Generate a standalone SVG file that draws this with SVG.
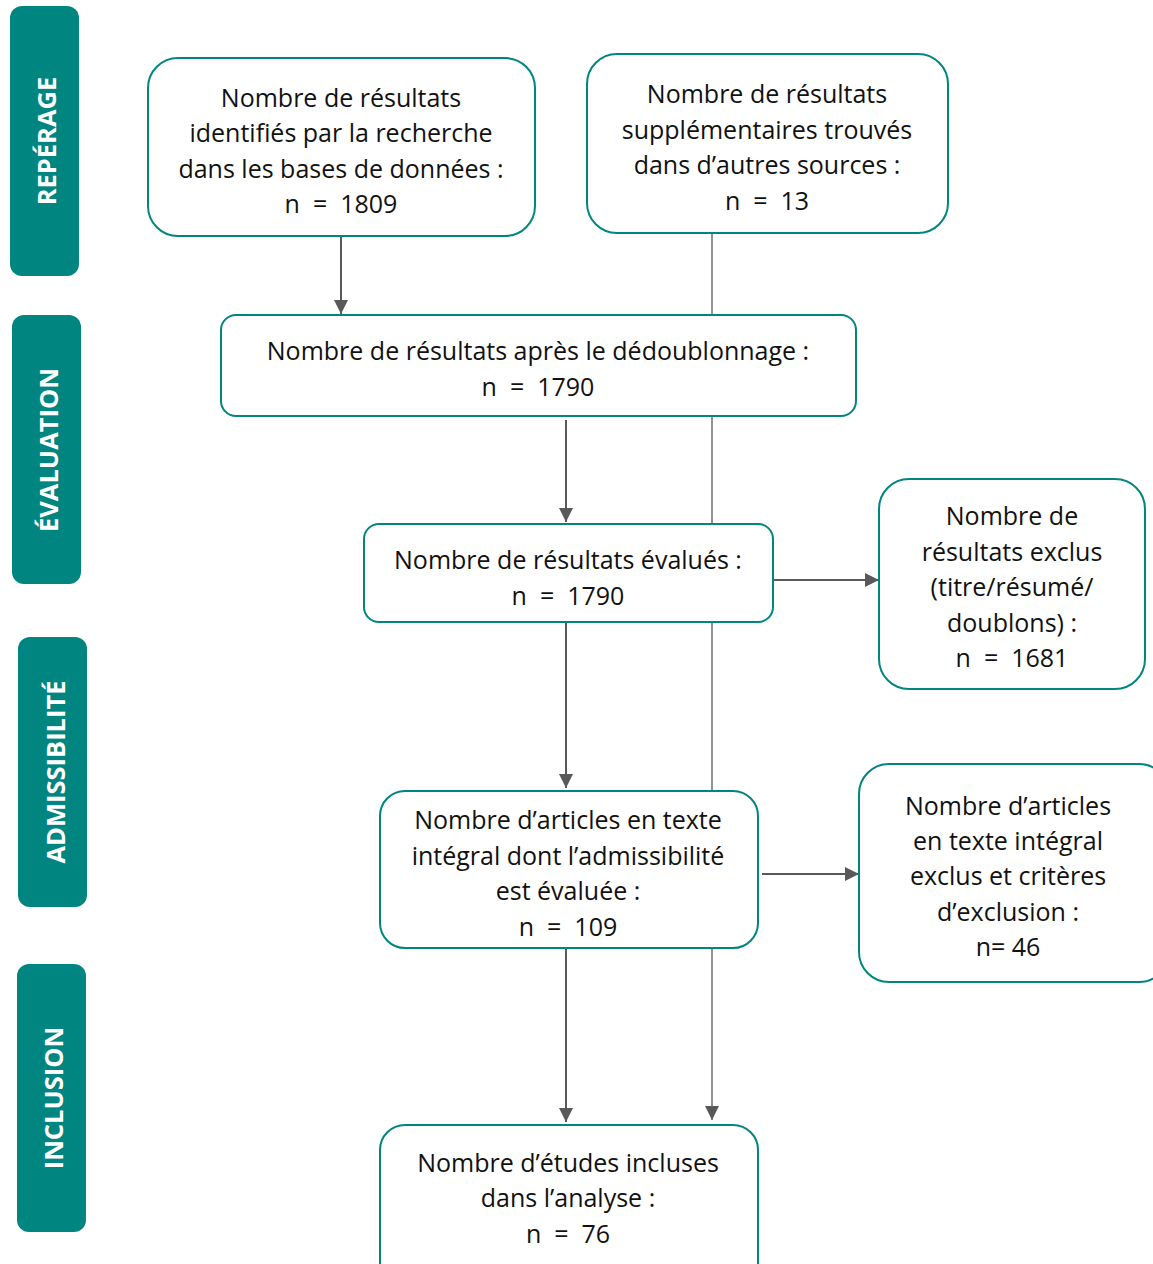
<svg xmlns="http://www.w3.org/2000/svg" width="1153" height="1264" viewBox="0 0 1153 1264">
<defs>
<style>
.side{fill:#008580;}
.sl{fill:#ffffff;font-family:"Open Sans","Noto Sans",sans-serif;font-weight:bold;font-size:25.5px;text-anchor:middle;dominant-baseline:central;}
.box{fill:#ffffff;stroke:#00857f;stroke-width:2;}
.t{fill:#111111;font-family:"Open Sans","Noto Sans",sans-serif;font-size:25px;text-anchor:middle;dominant-baseline:central;}
.c{stroke:#595959;stroke-width:2;fill:none;}
.thin{stroke:#595959;stroke-width:1.3;fill:none;}
</style>
<marker id="ah" viewBox="0 0 14 14" refX="14" refY="7" markerWidth="14" markerHeight="14" markerUnits="userSpaceOnUse" orient="auto">
<path d="M0,0 L14,7 L0,14 Z" fill="#595959"/>
</marker>
</defs>
<g id="sidebars">
<g id="side-reperage"><rect class="side" x="10" y="6" width="69" height="270" rx="12"/><text class="sl" transform="translate(46,141) rotate(-90)">REPÉRAGE</text></g>
<g id="side-evaluation"><rect class="side" x="12" y="315" width="69" height="269" rx="12"/><text class="sl" transform="translate(48,450) rotate(-90)">ÉVALUATION</text></g>
<g id="side-admissibilite"><rect class="side" x="18" y="637" width="69" height="270" rx="12"/><text class="sl" transform="translate(55,772) rotate(-90)">ADMISSIBILITÉ</text></g>
<g id="side-inclusion"><rect class="side" x="17" y="964" width="69" height="268" rx="12"/><text class="sl" transform="translate(53,1098) rotate(-90)">INCLUSION</text></g>
</g>
<g id="connectors">
<line class="thin" x1="712" y1="233" x2="712" y2="1120" marker-end="url(#ah)"/>
<line class="c" x1="341" y1="236" x2="341" y2="314" marker-end="url(#ah)"/>
<line class="c" x1="566" y1="420" x2="566" y2="522" marker-end="url(#ah)"/>
<line class="c" x1="566" y1="622" x2="566" y2="788" marker-end="url(#ah)"/>
<line class="c" x1="566" y1="948" x2="566" y2="1122" marker-end="url(#ah)"/>
<line class="c" x1="773" y1="580" x2="879" y2="580" marker-end="url(#ah)"/>
<line class="c" x1="762" y1="874" x2="859" y2="874" marker-end="url(#ah)"/>
</g>
<g id="n1"><rect class="box" x="148" y="58" width="387" height="178" rx="30"/>
<text class="t" x="341" y="97">Nombre de résultats</text>
<text class="t" x="341" y="132">identifiés par la recherche</text>
<text class="t" x="341" y="168">dans les bases de données :</text>
<text class="t" x="341" y="203" xml:space="preserve">n  =  1809</text></g>
<g id="n2"><rect class="box" x="587" y="54" width="361" height="179" rx="30"/>
<text class="t" x="767" y="93">Nombre de résultats</text>
<text class="t" x="767" y="129">supplémentaires trouvés</text>
<text class="t" x="767" y="164">dans d’autres sources :</text>
<text class="t" x="767" y="200" xml:space="preserve">n  =  13</text></g>
<g id="n3"><rect class="box" x="221" y="315" width="635" height="101" rx="15"/>
<text class="t" x="538" y="350">Nombre de résultats après le dédoublonnage :</text>
<text class="t" x="538" y="386" xml:space="preserve">n  =  1790</text></g>
<g id="n4"><rect class="box" x="364" y="524" width="409" height="98" rx="15"/>
<text class="t" x="568" y="559">Nombre de résultats évalués :</text>
<text class="t" x="568" y="595" xml:space="preserve">n  =  1790</text></g>
<g id="n5"><rect class="box" x="879" y="479" width="266" height="210" rx="30"/>
<text class="t" x="1012" y="515">Nombre de</text>
<text class="t" x="1012" y="551">résultats exclus</text>
<text class="t" x="1012" y="586">(titre/résumé/</text>
<text class="t" x="1012" y="622">doublons) :</text>
<text class="t" x="1012" y="657" xml:space="preserve">n  =  1681</text></g>
<g id="n6"><rect class="box" x="380" y="791" width="378" height="157" rx="25"/>
<text class="t" x="568" y="819">Nombre d’articles en texte</text>
<text class="t" x="568" y="855">intégral dont l’admissibilité</text>
<text class="t" x="568" y="890">est évaluée :</text>
<text class="t" x="568" y="926" xml:space="preserve">n  =  109</text></g>
<g id="n7"><rect class="box" x="859" y="764" width="310" height="218" rx="30"/>
<text class="t" x="1008" y="805">Nombre d’articles</text>
<text class="t" x="1008" y="840">en texte intégral</text>
<text class="t" x="1008" y="875">exclus et critères</text>
<text class="t" x="1008" y="911">d’exclusion :</text>
<text class="t" x="1008" y="946">n= 46</text></g>
<g id="n8"><rect class="box" x="380" y="1125" width="378" height="170" rx="25"/>
<text class="t" x="568" y="1162">Nombre d’études incluses</text>
<text class="t" x="568" y="1197">dans l’analyse :</text>
<text class="t" x="568" y="1233" xml:space="preserve">n  =  76</text></g>
</svg>
